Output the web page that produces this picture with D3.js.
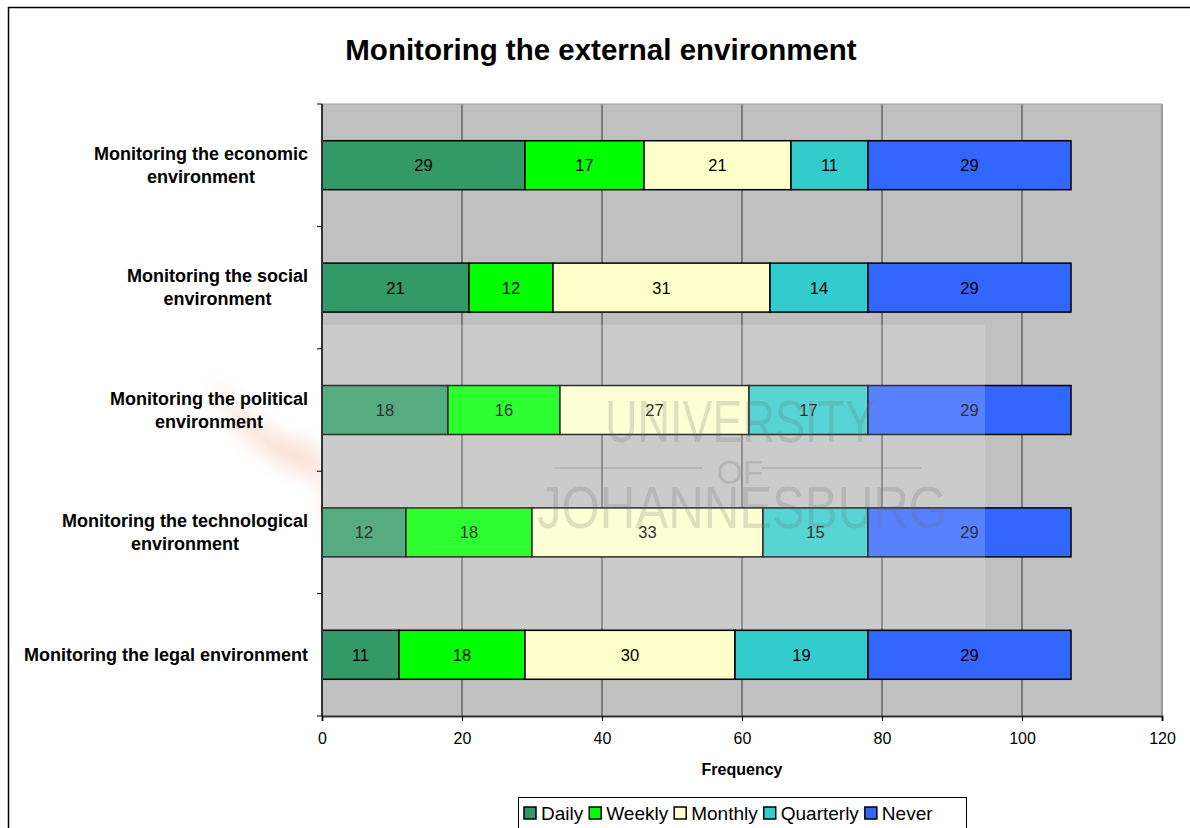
<!DOCTYPE html>
<html>
<head>
<meta charset="utf-8">
<script src="https://cdn.jsdelivr.net/npm/d3@7"></script>
<style>
  body { margin: 0; background: #fff; }
  text { font-family: Arial, "Liberation Sans", sans-serif; }
</style>
</head>
<body>
<div id="chart"></div>
<script>
// dữ liệu
var categories = [
  ["Monitoring the economic", "environment"],
  ["Monitoring the social", "environment"],
  ["Monitoring the political", "environment"],
  ["Monitoring the technological", "environment"],
  ["Monitoring the legal environment"]
];
var seriesNames = ["Daily", "Weekly", "Monthly", "Quarterly", "Never"];
var seriesColors = ["#339966", "#00ff00", "#ffffcc", "#33cccc", "#3366ff"];
var daily     = [29, 21, 18, 12, 11];
var weekly    = [17, 12, 16, 18, 18];
var monthly   = [21, 31, 27, 33, 30];
var quarterly = [11, 14, 17, 15, 19];
var never     = [29, 29, 29, 29, 29];
var xTicks = [0, 20, 40, 60, 80, 100, 120];

var W = 1190, H = 828;
var margin = { top: 104, right: 28, bottom: 112, left: 322 };
var width = W - margin.left - margin.right,
    height = H - margin.top - margin.bottom;

var svg = d3.select("#chart").append("svg").attr("width", W).attr("height", H);

var defs = svg.append("defs");
defs.append("filter").attr("id", "blur").append("feGaussianBlur").attr("stdDeviation", 9);

// khung ngoài
svg.append("rect").attr("x", 8.5).attr("y", 7.5).attr("width", 1200).attr("height", 900)
   .attr("fill", "none").attr("stroke", "#000").attr("stroke-width", 1.5);

svg.append("text").attr("x", 601).attr("y", 60).attr("text-anchor", "middle")
   .style("font-size", "29.5px").style("font-weight", "bold").text("Monitoring the external environment");

// logo mờ phía sau
var logo = svg.append("g").attr("filter", "url(#blur)").attr("opacity", 0.2).attr("fill", "#e8703c");
logo.append("path")
  .attr("d", "M215,380 C230,440 280,470 320,480 L330,540 L345,480 C390,470 440,440 455,380 C420,420 380,440 345,445 L330,500 L318,445 C280,440 245,420 215,380 Z");

var g = svg.append("g").attr("transform", `translate(${margin.left},${margin.top})`);

var x = d3.scaleLinear().domain([0, 120]).range([0, width]);
var y = d3.scaleBand().domain(d3.range(categories.length)).range([0, height]).paddingInner(0.6).paddingOuter(0.3);

var rows = categories.map((c, i) => ({
  i: i, Daily: daily[i], Weekly: weekly[i], Monthly: monthly[i], Quarterly: quarterly[i], Never: never[i]
}));
var stack = d3.stack().keys(seriesNames)(rows);

g.append("rect").attr("width", width).attr("height", height).attr("fill", "#c0c0c0");

// lưới dọc
g.selectAll(".grid").data(xTicks.slice(1, -1)).enter().append("line")
 .attr("x1", d => x(d)).attr("x2", d => x(d)).attr("y1", 0).attr("y2", height)
 .attr("stroke", "#333").attr("stroke-width", 1);

// cột chồng
stack.forEach((layer, k) => {
  g.selectAll(".bar" + k).data(layer).enter().append("rect")
   .attr("x", d => x(d[0])).attr("y", d => y(d.data.i))
   .attr("width", d => x(d[1]) - x(d[0])).attr("height", y.bandwidth())
   .attr("fill", seriesColors[k]).attr("stroke", "#000").attr("stroke-width", 1.5);
  g.selectAll(".lab" + k).data(layer).enter().append("text")
   .attr("x", d => (x(d[0]) + x(d[1])) / 2).attr("y", d => y(d.data.i) + y.bandwidth() / 2 + 6)
   .attr("text-anchor", "middle").style("font-size", "16.5px")
   .text(d => d[1] - d[0]);
});

// watermark
var wm = g.append("g").attr("pointer-events", "none");
wm.append("rect").attr("x", 0).attr("y", 221).attr("width", 663).attr("height", 303)
  .attr("fill", "#fff").attr("opacity", 0.18);
var wmCol = "#666", wmOp = 0.2;
wm.append("text").attr("x", 418).attr("y", 338).attr("text-anchor", "middle")
  .attr("textLength", 270).attr("lengthAdjust", "spacingAndGlyphs")
  .style("font-size", "60px").attr("fill", wmCol).attr("opacity", wmOp).text("UNIVERSITY");
wm.append("text").attr("x", 418).attr("y", 380).attr("text-anchor", "middle")
  .style("font-size", "34px").attr("fill", wmCol).attr("opacity", wmOp).text("OF");
wm.append("line").attr("x1", 233).attr("x2", 380).attr("y1", 364).attr("y2", 364)
  .attr("stroke", wmCol).attr("opacity", wmOp).attr("stroke-width", 2);
wm.append("line").attr("x1", 440).attr("x2", 600).attr("y1", 364).attr("y2", 364)
  .attr("stroke", wmCol).attr("opacity", wmOp).attr("stroke-width", 2);
wm.append("text").attr("x", 420).attr("y", 424).attr("text-anchor", "middle")
  .attr("textLength", 410).attr("lengthAdjust", "spacingAndGlyphs")
  .style("font-size", "60px").attr("fill", wmCol).attr("opacity", wmOp).text("JOHANNESBURG");

// viền phải
g.append("line").attr("x1", width).attr("x2", width).attr("y1", 0).attr("y2", height)
 .attr("stroke", "#808080").attr("stroke-width", 1.5);
g.append("line").attr("x1", 0).attr("x2", width).attr("y1", 0).attr("y2", 0)
 .attr("stroke", "#a0a0a0").attr("stroke-width", 1);

// trục X
var xAxis = g.append("g").attr("transform", `translate(0,${height})`)
 .call(d3.axisBottom(x).tickValues(xTicks).tickSize(5).tickPadding(12));
xAxis.selectAll("text").style("font-size", "16px").attr("fill", "#000");
xAxis.select(".domain").attr("stroke", "#333").attr("stroke-width", 2);

// trục Y
var yTickPos = d3.range(categories.length + 1).map(i => i * height / categories.length);
g.append("line").attr("x1", 0).attr("x2", 0).attr("y1", 0).attr("y2", height)
 .attr("stroke", "#333").attr("stroke-width", 2);
g.selectAll(".ytick").data(yTickPos).enter().append("line")
 .attr("x1", -5).attr("x2", 0).attr("y1", d => d).attr("y2", d => d).attr("stroke", "#000");

// nhãn danh mục
categories.forEach((lines, i) => {
  var cy = y(i) + y.bandwidth() / 2;
  var t = g.append("text").attr("text-anchor", "middle")
    .style("font-size", "18px").style("font-weight", "bold");
  lines.forEach((s, j) => {
    t.append("tspan").attr("x", 0).attr("y", cy + 6 + (j - (lines.length - 1) / 2) * 23).text(s);
  });
  var w = d3.max(t.selectAll("tspan").nodes(), n => n.getComputedTextLength());
  t.selectAll("tspan").attr("x", -14 - w / 2);
});

g.append("text").attr("x", width / 2).attr("y", height + 59).attr("text-anchor", "middle")
 .style("font-size", "16px").style("font-weight", "bold").text("Frequency");

// chú thích
var lg = svg.append("g").attr("transform", "translate(518,797)");
lg.append("rect").attr("x", 0.5).attr("y", 0.5).attr("width", 448).attr("height", 31)
  .attr("fill", "#fff").attr("stroke", "#000");
var lx = 6;
seriesNames.forEach((s, k) => {
  lg.append("rect").attr("x", lx).attr("y", 10).attr("width", 12).attr("height", 12)
    .attr("fill", seriesColors[k]).attr("stroke", "#000").attr("stroke-width", 1.5);
  var t = lg.append("text").attr("x", lx + 17).attr("y", 23).style("font-size", "19px").text(s);
  lx += 17 + t.node().getComputedTextLength() + 6;
});
</script>
</body>
</html>
